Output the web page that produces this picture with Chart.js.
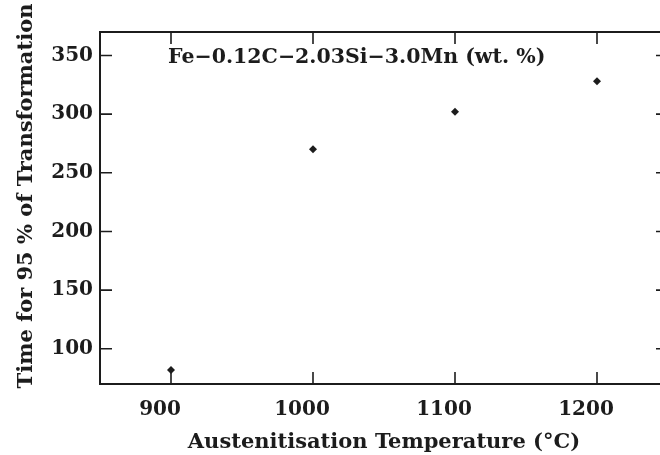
<!DOCTYPE html>
<html><head><meta charset="utf-8">
<script src="https://cdn.jsdelivr.net/npm/chart.js@4"></script>
<style>html,body{margin:0;padding:0;overflow:hidden;background:#fff;width:660px;height:455px}
canvas{display:block}</style></head>
<body><canvas id="c" width="675" height="455" style="width:675px;height:455px"></canvas>
<script>
const temperatures = [900, 1000, 1100, 1200];
const times = [82, 270, 302, 328];
const xTicks = [900, 1000, 1100, 1200];
const yTicks = [100, 150, 200, 250, 300, 350];
const xTitle = 'Austenitisation Temperature (\u00B0C)';
const yTitle = 'Time for 95 % of Transformation';
const alloyLabel = 'Fe\u22120.12C\u22122.03Si\u22123.0Mn (wt. %)';

const INK = '#1c1c1c';
const FONT = 'DejaVu Serif';

const framePlugin = {
  id: 'frame',
  beforeDatasetsDraw(chart) {
    const {ctx, chartArea: a, scales: {x, y}} = chart;
    ctx.save();
    ctx.strokeStyle = INK;
    ctx.lineWidth = 2;
    ctx.strokeRect(a.left, a.top, a.right - a.left, a.bottom - a.top);
    ctx.lineWidth = 1.6;
    ctx.beginPath();
    const tl = 12;
    yTicks.forEach(v => {
      const py = y.getPixelForValue(v);
      ctx.moveTo(a.left, py); ctx.lineTo(a.left + tl, py);
      ctx.moveTo(a.right, py); ctx.lineTo(a.right - tl, py);
    });
    xTicks.forEach(v => {
      const px = x.getPixelForValue(v);
      ctx.moveTo(px, a.bottom); ctx.lineTo(px, a.bottom - tl);
      ctx.moveTo(px, a.top); ctx.lineTo(px, a.top + tl);
    });
    ctx.stroke();
    ctx.restore();
  },
  afterDraw(chart) {
    const {ctx} = chart;
    ctx.save();
    ctx.fillStyle = INK;
    ctx.font = 'bold 20.5px "' + FONT + '"';
    ctx.textBaseline = 'middle';
    ctx.textAlign = 'left';
    ctx.fillText(alloyLabel, 168, 58);
    ctx.translate(27, 196);
    ctx.rotate(-Math.PI / 2);
    ctx.textAlign = 'center';
    ctx.font = 'bold 21px "' + FONT + '"';
    ctx.fillText(yTitle, 0, 0);
    ctx.restore();
  }
};

new Chart(document.getElementById('c'), {
  type: 'scatter',
  data: {
    datasets: [{
      data: temperatures.map((t, i) => ({x: t, y: times[i]})),
      pointStyle: 'rectRot',
      pointRadius: 4,
      backgroundColor: INK,
      borderColor: INK,
      borderWidth: 0
    }]
  },
  options: {
    responsive: false,
    animation: false,
    layout: {padding: {top: 32, right: 7, left: 0, bottom: 0}},
    plugins: {legend: {display: false}, tooltip: {enabled: false}},
    scales: {
      x: {
        type: 'linear', position: 'bottom', min: 850, max: 1250,
        afterBuildTicks: s => { s.ticks = xTicks.map(v => ({value: v})); },
        afterFit: s => { s.height = 71; },
        grid: {display: false, drawTicks: false},
        border: {display: false},
        ticks: {color: INK, font: {family: FONT, size: 20, weight: 'bold'}, padding: 14, labelOffset: -11, callback: v => String(v)},
        title: {display: true, text: xTitle, color: INK, font: {family: FONT, size: 21, weight: 'bold'}, padding: 0}
      },
      y: {
        type: 'linear', position: 'left', min: 70, max: 370,
        afterBuildTicks: s => { s.ticks = yTicks.map(v => ({value: v})); },
        afterFit: s => { s.width = 100; },
        grid: {display: false, drawTicks: false},
        border: {display: false},
        ticks: {color: INK, font: {family: FONT, size: 20, weight: 'bold'}, padding: 7, callback: v => String(v)}
      }
    }
  },
  plugins: [framePlugin]
});
</script>
</body></html>
